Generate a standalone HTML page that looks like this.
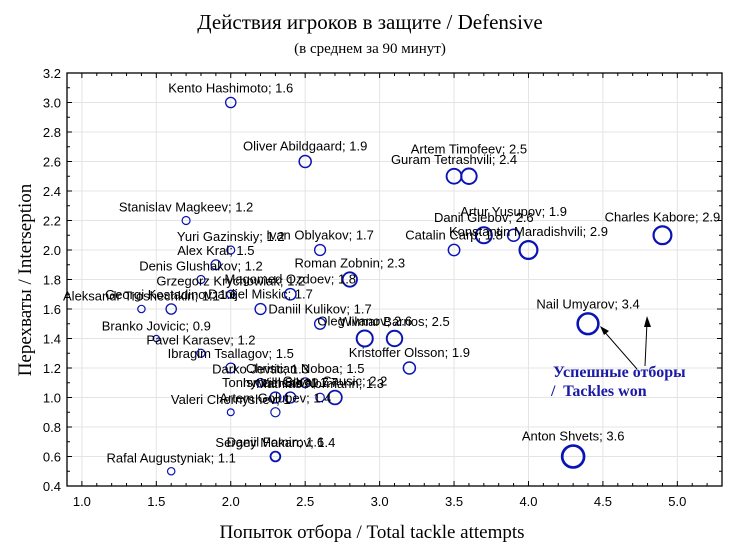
<!DOCTYPE html>
<html><head><meta charset="utf-8">
<style>
html,body{margin:0;padding:0;background:#fff;}
svg{display:block;}
</style></head>
<body>
<svg id="chart" width="730" height="548" viewBox="0 0 730 548" xmlns="http://www.w3.org/2000/svg">
<text x="370" y="29" text-anchor="middle" font-family="Liberation Serif, serif" font-size="21">Действия игроков в защите / Defensive</text>
<text x="370" y="53" text-anchor="middle" font-family="Liberation Serif, serif" font-size="15">(в среднем за 90 минут)</text>
<text x="372" y="538" text-anchor="middle" font-family="Liberation Serif, serif" font-size="19">Попыток отбора / Total tackle attempts</text>
<text transform="translate(31,280) rotate(-90)" text-anchor="middle" font-family="Liberation Serif, serif" font-size="19">Перехваты / Interseption</text>
<g id="grid"></g>
<g id="axes"></g>
<g id="points"></g>
<g id="labels"></g>
<g>
<line x1="637" y1="369" x2="602" y2="329" stroke="#000" stroke-width="1"/>
<polygon points="600,326 609,331 604,335" fill="#000"/>
<line x1="645" y1="366" x2="647" y2="322" stroke="#000" stroke-width="1"/>
<polygon points="647,316 644,327 651,327" fill="#000"/>
<text x="553" y="377" font-family="Liberation Serif, serif" font-size="16" font-weight="bold" fill="#1a1aa6">Успешные отборы</text>
<text x="551" y="396" font-family="Liberation Serif, serif" font-size="16" font-weight="bold" fill="#1a1aa6" xml:space="preserve">/  Tackles won</text>
</g>
</svg>
<script>
const names = ["Kento Hashimoto","Oliver Abildgaard","Artem Timofeev","Guram Tetrashvili","Stanislav Magkeev","Artur Yusupov","Danil Glebov","Charles Kabore","Konstantin Maradishvili","Catalin Carp","Yuri Gazinskiy","Ivan Oblyakov","Alex Kral","Denis Glushakov","Roman Zobnin","Grzegorz Krychowiak","Magomed Ozdoev","Danijel Miskic","Aleksandr Troshechkin","Georgi Kostadinov","Daniil Kulikov","Oleg Ivanov","Wilmar Barrios","Branko Jovicic","Pavel Karasev","Ibragim Tsallagov","Kristoffer Olsson","Darko Jevtic","Christian Noboa","Tonny Vilhena","Ismael Silva","Goran Causic","Valeri Chernyshev","Artem Golubev","Mathias Normann","Sergey Makarov","Daniil Fomin","Rafal Augustyniak","Anton Shvets","Nail Umyarov"];
const tackleAttempts = [2.0,2.5,3.6,3.5,1.7,3.9,3.7,4.9,4.0,3.5,2.0,2.6,1.9,1.8,2.8,2.0,2.4,2.2,1.4,1.6,2.6,2.9,3.1,1.5,1.8,2.0,3.2,2.2,2.5,2.3,2.4,2.7,2.0,2.3,2.6,2.3,2.3,1.6,4.3,4.4];
const interceptions = [3.0,2.6,2.5,2.5,2.2,2.1,2.1,2.1,2.0,2.0,2.0,2.0,1.9,1.8,1.8,1.7,1.7,1.6,1.6,1.6,1.5,1.4,1.4,1.4,1.3,1.2,1.2,1.1,1.1,1.0,1.0,1.0,0.9,0.9,1.0,0.6,0.6,0.5,0.6,1.5];
const tacklesWon = [1.6,1.9,2.5,2.4,1.2,1.9,2.6,2.9,2.9,1.8,1.2,1.7,1.5,1.2,2.3,1.2,1.8,1.7,1.1,1.6,1.7,2.6,2.5,0.9,1.2,1.5,1.9,1.3,1.5,1.7,1.7,2.2,1.0,1.4,1.3,1.4,1.6,1.1,3.6,3.4];
const xTicks = ["1.0","1.5","2.0","2.5","3.0","3.5","4.0","4.5","5.0"];
const yTicks = ["0.4","0.6","0.8","1.0","1.2","1.4","1.6","1.8","2.0","2.2","2.4","2.6","2.8","3.0","3.2"];
// label vertical nudges (px) to mimic reference label placement
const labelDy = {"Artem Timofeev":-10,"Artur Yusupov":-8};

const NS="http://www.w3.org/2000/svg";
const L=67,R=722,T=73,B=486,X0=0.9,X1=5.3,Y0=0.4,Y1=3.2;
function xs(v){return L+(v-X0)/(X1-X0)*(R-L);}
function ys(v){return B-(v-Y0)/(Y1-Y0)*(B-T);}
function rs(v){return 2.9*v+0.5;}
function mk(tag,attrs,parent){const e=document.createElementNS(NS,tag);for(const k in attrs)e.setAttribute(k,attrs[k]);parent.appendChild(e);return e;}
const grid=document.getElementById('grid'),axes=document.getElementById('axes'),pts=document.getElementById('points'),lbl=document.getElementById('labels');

xTicks.forEach(t=>{const v=parseFloat(t),x=xs(v);
 const g=mk('line',{x1:x,x2:x,y1:T,y2:B,stroke:'#e4e4e4','stroke-width':1},grid);
 
 
 const tx=mk('text',{x:x,y:B+20,'text-anchor':'middle','font-family':'Liberation Sans, sans-serif','font-size':13},axes);
 
 
 tx.textContent=t;});
yTicks.forEach(t=>{const v=parseFloat(t),y=ys(v);
 const g=mk('line',{x1:L,x2:R,y1:y,y2:y,stroke:'#e4e4e4','stroke-width':1},grid);
 
 
 const tx=mk('text',{x:L-6,y:y+5,'text-anchor':'end','font-family':'Liberation Sans, sans-serif','font-size':13},axes);
 
 
 tx.textContent=t;});
for(let i=0;i<=44;i++){const v=X0+i*0.1,x=xs(v),major=(Math.round(v*10)%5===0);const len=major?5:3;
 const a=mk('line',{x1:x,x2:x,y1:B,y2:B-len,stroke:'#000','stroke-width':1},axes);
 
 
 const b=mk('line',{x1:x,x2:x,y1:T,y2:T+len,stroke:'#000','stroke-width':1},axes);
 
 }
for(let i=0;i<=28;i++){const v=Y0+i*0.1,y=ys(v),major=(i%2===0);const len=major?5:3;
 const a=mk('line',{x1:L,x2:L+len,y1:y,y2:y,stroke:'#000','stroke-width':1},axes);
 
 
 const b=mk('line',{x1:R,x2:R-len,y1:y,y2:y,stroke:'#000','stroke-width':1},axes);
 
 }
const fr=mk('rect',{x:L,y:T,width:R-L,height:B-T,fill:'none',stroke:'#000','stroke-width':1.3},axes);



names.forEach((n,i)=>{const cx=xs(tackleAttempts[i]),cy=ys(interceptions[i]),r=rs(tacklesWon[i]);
 const c=mk('circle',{cx:cx,cy:cy,r:r,fill:'none',stroke:'#0a14b4','stroke-width':Math.max(1.2,r/4)},pts);
 
 
 const dy=labelDy[n]||0;
 const t=mk('text',{x:cx,y:cy-r-5+dy,'text-anchor':'middle','font-family':'Liberation Sans, sans-serif','font-size':13},lbl);
 
 
 t.textContent=n+'; '+tacklesWon[i];});
</script>
</body></html>
